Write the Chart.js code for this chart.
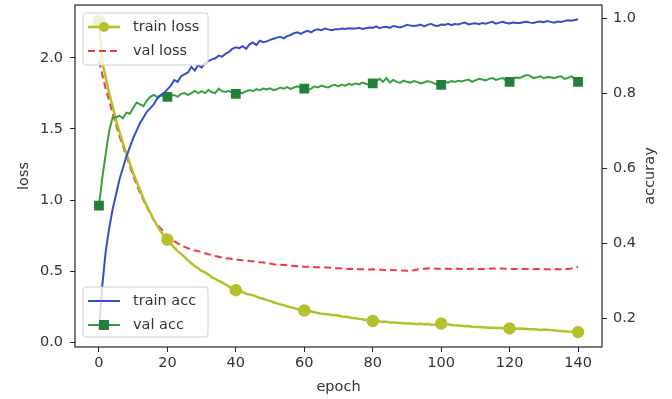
<!DOCTYPE html>
<html>
<head>
<meta charset="utf-8">
<script src="https://cdn.jsdelivr.net/npm/chart.js@4.4.1/dist/chart.umd.min.js"></script>
<style>
  html, body { margin: 0; padding: 0; background: #fff; }
  #wrap { width: 672px; height: 399px; }
</style>
</head>
<body>
<div id="wrap"><canvas id="chart" width="672" height="399"></canvas></div>
<script>
// 数据：每个 epoch 一个值 (0..140)
const epochs = [];
for (let i = 0; i <= 140; i++) epochs.push(i);

const trainLoss = [
  2.26, 1.97, 1.86, 1.75, 1.66, 1.56, 1.48, 1.40, 1.33, 1.26,
  1.19, 1.13, 1.07, 1.01, 0.96, 0.91, 0.86, 0.82, 0.78, 0.75,
  0.72, 0.69, 0.665, 0.64, 0.62, 0.60, 0.575, 0.555, 0.535, 0.52,
  0.50, 0.49, 0.475, 0.455, 0.445, 0.43, 0.42, 0.405, 0.39, 0.38,
  0.365, 0.36, 0.352, 0.34, 0.335, 0.33, 0.32, 0.31, 0.305, 0.295,
  0.29, 0.28, 0.272, 0.265, 0.26, 0.252, 0.245, 0.24, 0.232, 0.226,
  0.222, 0.218, 0.215, 0.21, 0.205, 0.20, 0.198, 0.195, 0.19, 0.19,
  0.185, 0.18, 0.178, 0.174, 0.17, 0.168, 0.163, 0.16, 0.155, 0.15,
  0.148, 0.148, 0.145, 0.143, 0.142, 0.138, 0.137, 0.135, 0.134, 0.132,
  0.13, 0.131, 0.128, 0.127, 0.128, 0.125, 0.127, 0.124, 0.122, 0.125,
  0.13, 0.128, 0.125, 0.12, 0.118, 0.117, 0.115, 0.112, 0.113, 0.108,
  0.106, 0.105, 0.104, 0.103, 0.101, 0.10, 0.099, 0.098, 0.097, 0.096,
  0.096, 0.095, 0.094, 0.095, 0.094, 0.092, 0.09, 0.09, 0.088, 0.085,
  0.088, 0.086, 0.084, 0.083, 0.08, 0.078, 0.076, 0.074, 0.073, 0.071,
  0.07
];

const valLoss = [
  1.98, 1.88, 1.78, 1.70, 1.61, 1.53, 1.45, 1.38, 1.31, 1.24,
  1.17, 1.11, 1.05, 1.00, 0.95, 0.905, 0.86, 0.83, 0.80, 0.775,
  0.75, 0.73, 0.71, 0.695, 0.68, 0.67, 0.66, 0.65, 0.645, 0.64,
  0.632, 0.625, 0.618, 0.612, 0.605, 0.60, 0.595, 0.59, 0.588, 0.585,
  0.582, 0.578, 0.575, 0.573, 0.57, 0.568, 0.565, 0.562, 0.56, 0.556,
  0.552, 0.548, 0.546, 0.544, 0.542, 0.54, 0.538, 0.536, 0.534, 0.532,
  0.53, 0.53, 0.528, 0.527, 0.526, 0.525, 0.525, 0.524, 0.523, 0.52,
  0.52, 0.518, 0.516, 0.515, 0.514, 0.514, 0.513, 0.513, 0.512, 0.511,
  0.512, 0.51, 0.51, 0.507, 0.508, 0.509, 0.507, 0.506, 0.505, 0.503,
  0.502, 0.503, 0.506, 0.51, 0.515, 0.516, 0.518, 0.519, 0.517, 0.516,
  0.515, 0.516, 0.516, 0.515, 0.515, 0.516, 0.515, 0.514, 0.515, 0.516,
  0.515, 0.514, 0.515, 0.515, 0.516, 0.517, 0.518, 0.518, 0.517, 0.516,
  0.515, 0.514, 0.515, 0.514, 0.515, 0.514, 0.514, 0.512, 0.515, 0.514,
  0.512, 0.513, 0.511, 0.514, 0.512, 0.512, 0.513, 0.515, 0.518, 0.524,
  0.53
];

const trainAcc = [
  0.168, 0.29, 0.38, 0.44, 0.49, 0.53, 0.57, 0.60, 0.63, 0.655,
  0.68, 0.70, 0.72, 0.735, 0.75, 0.76, 0.77, 0.785, 0.795, 0.80,
  0.81, 0.82, 0.835, 0.83, 0.845, 0.85, 0.855, 0.87, 0.86, 0.875,
  0.868, 0.88, 0.885, 0.89, 0.893, 0.90, 0.897, 0.905, 0.91, 0.918,
  0.922, 0.92, 0.925, 0.918, 0.93, 0.935, 0.928, 0.94, 0.936, 0.938,
  0.942, 0.945, 0.948, 0.95, 0.946, 0.952, 0.955, 0.96, 0.962, 0.958,
  0.963, 0.966, 0.962, 0.968, 0.97, 0.968, 0.972, 0.97, 0.968, 0.97,
  0.97, 0.972, 0.971, 0.973, 0.972, 0.972, 0.974, 0.971, 0.973, 0.975,
  0.974, 0.978, 0.973, 0.976, 0.977, 0.974, 0.979, 0.977, 0.975, 0.978,
  0.982, 0.98, 0.979, 0.98, 0.983, 0.978, 0.982, 0.985, 0.98, 0.979,
  0.983, 0.982, 0.985, 0.981, 0.984, 0.983, 0.986, 0.988, 0.983, 0.985,
  0.986, 0.984, 0.987, 0.985, 0.988, 0.99, 0.985, 0.988, 0.99, 0.987,
  0.986, 0.988, 0.987, 0.987, 0.989, 0.99, 0.988, 0.987, 0.99, 0.991,
  0.989, 0.992, 0.99, 0.988, 0.991, 0.99, 0.992, 0.994, 0.993, 0.995,
  0.997
];

const valAcc = [
  0.50, 0.575, 0.64, 0.70, 0.735, 0.735, 0.74, 0.733, 0.748, 0.745,
  0.76, 0.775, 0.77, 0.765, 0.78, 0.79, 0.795, 0.79, 0.792, 0.795,
  0.79, 0.793, 0.795, 0.79, 0.798, 0.80, 0.795, 0.80, 0.806, 0.80,
  0.805, 0.80, 0.808, 0.802, 0.80, 0.812, 0.805, 0.803, 0.806, 0.80,
  0.798, 0.802, 0.80, 0.805, 0.808, 0.805, 0.81, 0.808, 0.812, 0.81,
  0.813, 0.808, 0.81, 0.815, 0.812, 0.816, 0.811, 0.815, 0.818, 0.814,
  0.812, 0.808, 0.812, 0.818, 0.815, 0.82, 0.817, 0.815, 0.82, 0.822,
  0.818, 0.823, 0.82, 0.825, 0.822, 0.826, 0.823, 0.828, 0.825, 0.822,
  0.826, 0.832, 0.838, 0.83, 0.84, 0.828, 0.835, 0.83, 0.827, 0.833,
  0.83, 0.828, 0.832, 0.83, 0.826, 0.828, 0.832, 0.83, 0.826, 0.822,
  0.822, 0.83, 0.828, 0.832, 0.83, 0.833, 0.831, 0.834, 0.836, 0.83,
  0.834, 0.838, 0.836, 0.834, 0.838, 0.84, 0.835, 0.838, 0.84, 0.833,
  0.83, 0.838, 0.842, 0.84, 0.845, 0.848, 0.846, 0.84, 0.842, 0.845,
  0.84, 0.843, 0.842, 0.84, 0.843, 0.845, 0.838, 0.84, 0.845, 0.838,
  0.83
];

// 刻度
const epochTicks = [0, 20, 40, 60, 80, 100, 120, 140];
const lossTicks = [0.0, 0.5, 1.0, 1.5, 2.0];
const accTicks = [0.2, 0.4, 0.6, 0.8, 1.0];

const FONT = 'DejaVu Sans';
const FS = 14.5;
const AXIS_COLOR = '#262626';
const TEXT_COLOR = '#333';

function toPoints(arr) {
  return arr.map((v, i) => ({ x: epochs[i], y: v }));
}

// 每 20 个 epoch 画一个标记
function markEvery(r) {
  return ctx => (ctx.dataIndex % 20 === 0 ? r : 0);
}

const lossDatasets = [
  {
    label: 'train loss',
    data: toPoints(trainLoss),
    yAxisID: 'yLoss',
    borderColor: '#b5c12c',
    backgroundColor: '#b5c12c',
    borderWidth: 2.5,
    pointStyle: 'circle',
    pointRadius: markEvery(5),
    pointHoverRadius: 0
  },
  {
    label: 'val loss',
    data: toPoints(valLoss),
    yAxisID: 'yLoss',
    borderColor: '#f2383f',
    backgroundColor: '#f2383f',
    borderWidth: 2,
    borderDash: [7, 4],
    pointRadius: 0
  }
];

const accDatasets = [
  {
    label: 'train acc',
    data: toPoints(trainAcc),
    yAxisID: 'yAcc',
    borderColor: '#3450c8',
    backgroundColor: '#3450c8',
    borderWidth: 2,
    pointRadius: 0
  },
  {
    label: 'val acc',
    data: toPoints(valAcc),
    yAxisID: 'yAcc',
    borderColor: '#38a040',
    backgroundColor: '#22803a',
    borderWidth: 2,
    pointStyle: 'rect',
    pointRadius: markEvery(5.5),
    pointBorderColor: '#22803a',
    pointHoverRadius: 0
  }
];

function fixedTicks(values) {
  return scale => { scale.ticks = values.map(v => ({ value: v })); };
}

// 去掉刻度标签带来的额外边距，让绘图区贴合设定尺寸
function fitSize(prop, size) {
  return s => {
    s[prop] = size;
    s.paddingTop = 0;
    s.paddingBottom = 0;
    s.paddingLeft = 0;
    s.paddingRight = 0;
  };
}

// 画一个图例框
function drawLegend(ctx, box, items) {
  ctx.save();
  ctx.fillStyle = 'rgba(255,255,255,0.8)';
  ctx.strokeStyle = '#d0d0d0';
  ctx.lineWidth = 1;
  ctx.beginPath();
  ctx.roundRect(box.x, box.y, box.w, box.h, 3);
  ctx.fill();
  ctx.stroke();
  items.forEach((ds, i) => {
    const y = box.y + 14 + i * 24;
    const x0 = box.x + 5;
    const x1 = x0 + 32;
    ctx.strokeStyle = ds.borderColor;
    ctx.lineWidth = ds.borderWidth;
    ctx.setLineDash(ds.borderDash || []);
    ctx.beginPath();
    ctx.moveTo(x0, y);
    ctx.lineTo(x1, y);
    ctx.stroke();
    ctx.setLineDash([]);
    const mx = (x0 + x1) / 2;
    if (ds.pointStyle === 'circle') {
      ctx.fillStyle = ds.backgroundColor;
      ctx.beginPath();
      ctx.arc(mx, y, 5, 0, Math.PI * 2);
      ctx.fill();
    } else if (ds.pointStyle === 'rect') {
      ctx.fillStyle = ds.backgroundColor;
      ctx.fillRect(mx - 5, y - 5, 10, 10);
    }
    ctx.fillStyle = TEXT_COLOR;
    ctx.font = FS + 'px "' + FONT + '"';
    ctx.textAlign = 'left';
    ctx.textBaseline = 'middle';
    ctx.fillText(ds.label, box.x + 50, y);
  });
  ctx.restore();
}

const framePlugin = {
  id: 'frame',
  afterDatasetsDraw(chart) {
    const { ctx, chartArea: a } = chart;
    drawLegend(ctx, { x: 83, y: 13, w: 125, h: 52 }, lossDatasets);
    drawLegend(ctx, { x: 83, y: 287, w: 125, h: 50 }, accDatasets);
    ctx.save();
    ctx.strokeStyle = AXIS_COLOR;
    ctx.lineWidth = 1.2;
    ctx.strokeRect(a.left, a.top, a.right - a.left, a.bottom - a.top);
    // 右侧坐标轴标题
    ctx.fillStyle = TEXT_COLOR;
    ctx.font = FS + 'px "' + FONT + '"';
    ctx.textAlign = 'center';
    ctx.textBaseline = 'middle';
    ctx.translate(650, 176);
    ctx.rotate(-Math.PI / 2);
    ctx.fillText('accuray', 0, 0);
    ctx.restore();
  }
};

const tickStyle = { family: FONT, size: FS };

new Chart(document.getElementById('chart'), {
  type: 'line',
  data: { datasets: [...accDatasets, ...lossDatasets] },
  options: {
    responsive: false,
    animation: false,
    devicePixelRatio: 1,
    layout: { padding: { top: 5, left: 0, right: 0, bottom: 0 }, autoPadding: false },
    plugins: { legend: { display: false }, tooltip: { enabled: false } },
    elements: { line: { tension: 0 } },
    scales: {
      x: {
        type: 'linear',
        min: -7,
        max: 147,
        afterBuildTicks: fixedTicks(epochTicks),
        afterFit: fitSize('height', 52),
        grid: { drawOnChartArea: false, drawTicks: true, tickLength: 5, color: AXIS_COLOR },
        border: { display: false },
        ticks: { font: tickStyle, color: TEXT_COLOR, padding: 3, maxRotation: 0 },
        title: { display: true, text: 'epoch', font: tickStyle, color: TEXT_COLOR, padding: { bottom: 3 } }
      },
      yLoss: {
        type: 'linear',
        position: 'left',
        min: -0.035,
        max: 2.373,
        afterBuildTicks: fixedTicks(lossTicks),
        afterFit: fitSize('width', 75),
        grid: { drawOnChartArea: false, drawTicks: true, tickLength: 5, color: AXIS_COLOR },
        border: { display: false },
        ticks: { font: tickStyle, color: TEXT_COLOR, padding: 7, callback: v => v.toFixed(1) },
        title: { display: true, text: 'loss', font: tickStyle, color: TEXT_COLOR, padding: { top: 16 } }
      },
      yAcc: {
        type: 'linear',
        position: 'right',
        min: 0.1227,
        max: 1.035,
        afterBuildTicks: fixedTicks(accTicks),
        afterFit: fitSize('width', 70),
        grid: { drawOnChartArea: false, drawTicks: true, tickLength: 5, color: AXIS_COLOR },
        border: { display: false },
        ticks: { font: tickStyle, color: TEXT_COLOR, padding: 6, callback: v => v.toFixed(1) }
      }
    }
  },
  plugins: [framePlugin]
});
</script>
</body>
</html>
